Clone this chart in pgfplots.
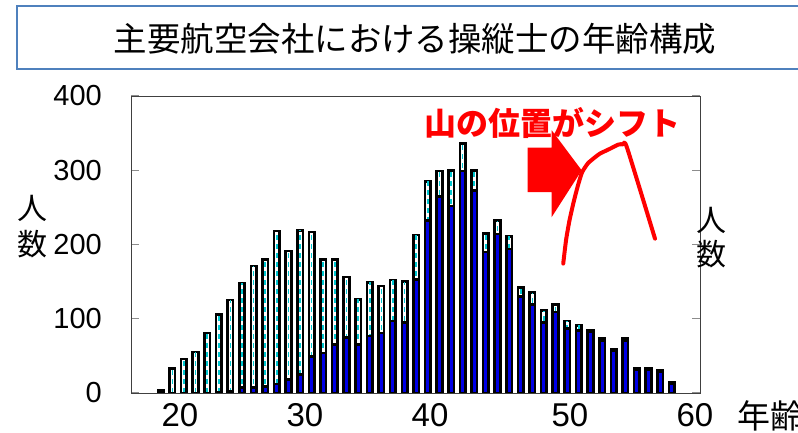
\documentclass[border=0pt]{standalone}
\usepackage{fontspec}
\setmainfont{Liberation Sans}
\newfontfamily\jp{Noto Sans CJK JP}
\usepackage{pgfplots}
\usepackage{pgfplotstable}
\pgfplotsset{compat=1.18}

\definecolor{barblue}{RGB}{0,0,230}
\definecolor{dashcyan}{RGB}{0,200,210}
\definecolor{boxblue}{RGB}{79,129,189}

% i = bar index (first bar = youngest age), tot = all pilots, blu = inner (blue) series
\pgfplotstableread{
i tot blu
0 4 2
1 33 0
2 46 0
3 55 0
4 81 0
5 106 1
6 125 2
7 148 7
8 171 7
9 180 9
10 218 12
11 191 18
12 219 25
13 217 49
14 180 54
15 180 65
16 156 75
17 126 65
18 149 77
19 144 81
20 152 97
21 150 95
22 213 153
23 285 232
24 299 265
25 300 252
26 336 299
27 300 273
28 215 190
29 232 214
30 211 194
31 142 130
32 135 119
33 111 95
34 119 109
35 97 87
36 91 84
37 85 83
38 73 71
39 59 57
40 73 71
41 33 31
42 33 31
43 31 29
44 15 13
}\pilots

\begin{document}
\begin{tikzpicture}
\draw[boxblue, line width=2pt] (17pt,364pt) rectangle (830pt,427pt);
\node[font=\jp\fontsize{33.5}{33.5}\selectfont] at (415pt,394pt) {主要航空会社における操縦士の年齢構成};

\begin{axis}[
  at={(131pt,40pt)}, anchor=south west,
  width=569pt, height=297pt, scale only axis,
  xmin=-2.557, xmax=46.435, ymin=0, ymax=400,
  axis line style={black!75, line width=0.8pt},
  ytick={0,100,200,300,400}, yticklabels={0,100,200,300,400},
  xtick={1.662,12.425,23.19,35.24,46.0}, xticklabels={20,30,40,50,60},
  tick align=inside,
  major tick length=8pt,
  ytick style={black!45, line width=1pt},
  xtick style={draw=none},
  yticklabel style={font=\fontsize{29}{29}\selectfont, anchor=east, inner sep=0pt, xshift=-29pt},
  xticklabel style={font=\fontsize{33}{33}\selectfont, anchor=north, inner sep=0pt, yshift=-10pt},
]
\addplot[ybar, bar width=0.48, fill=white, draw=black, line width=2.6pt] table[x=i,y=tot] {\pilots};
\addplot[ycomb, dashcyan, line width=1.6pt, dash pattern=on 5pt off 4pt, shorten >=2pt] table[x=i,y=tot] {\pilots};
\addplot[ybar, bar width=0.48, fill=barblue, draw=black, line width=2.6pt] table[x=i,y=blu] {\pilots};

% annotation: block arrow and the shifted "mountain"
\addplot[draw=none, fill=red] coordinates {(31.60,330.5) (33.67,330.5) (33.67,353.8) (36.25,299.9) (33.67,237) (33.67,270.7) (31.60,270.7)} --cycle;
\addplot[red, line width=4pt, smooth, tension=0.35, line join=round, line cap=round] coordinates {
  (34.66,174.3) (34.90,205.7) (35.20,232.6) (35.59,259.5) (35.93,279.7) (36.28,297.2)
  (36.79,309.4) (37.39,317.4) (37.82,322.4) (38.68,328.9) (39.40,334.5) (39.81,334.9)
  (40.15,330.5) (42.56,207.9)};
\end{axis}

\node[font=\jp\bfseries\fontsize{32}{32}\selectfont, text=red] at (552pt,310pt) {山の位置がシフト};

\node[font=\jp\fontsize{30}{30}\selectfont] at (32pt,224.5pt) {人};
\node[font=\jp\fontsize{30}{30}\selectfont] at (32pt,189pt) {数};
\node[font=\jp\fontsize{30}{30}\selectfont] at (711pt,213pt) {人};
\node[font=\jp\fontsize{30}{30}\selectfont] at (711pt,179pt) {数};
\node[font=\jp\fontsize{33}{33}\selectfont, anchor=west, inner sep=0pt] at (737pt,17pt) {年齢};

\pgfresetboundingbox
\path[use as bounding box] (0,0) rectangle (798pt,433pt);
\end{tikzpicture}
\end{document}
